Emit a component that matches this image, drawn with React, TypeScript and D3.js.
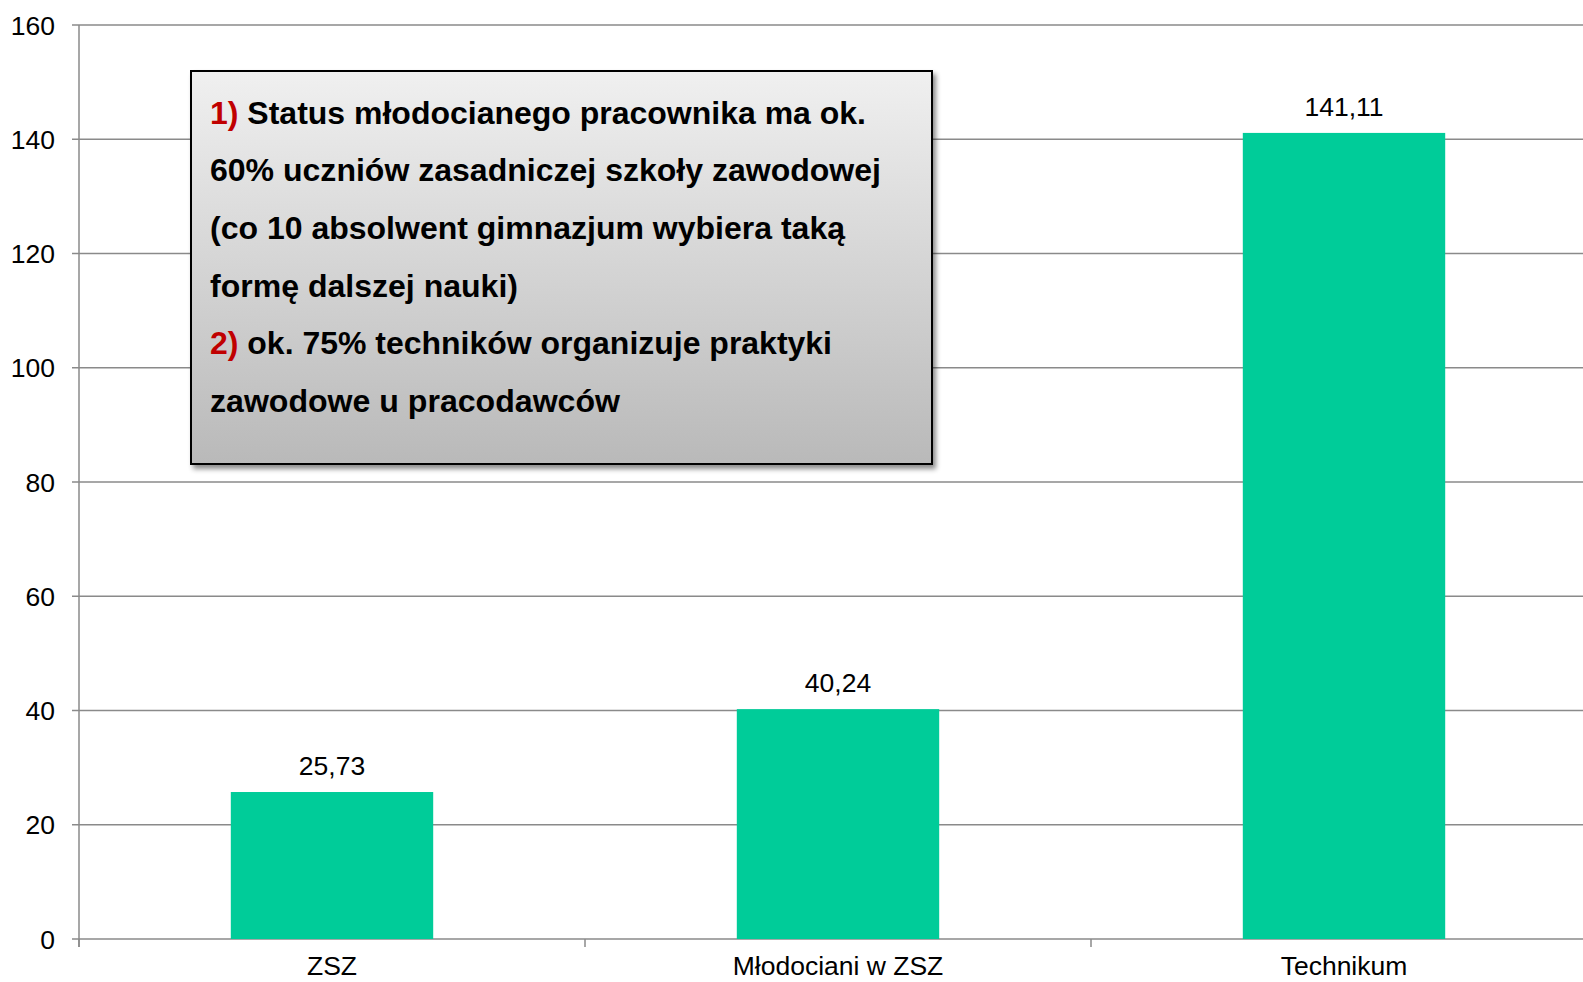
import React from 'react';
import * as d3 from 'd3';

const categories = ['ZSZ', 'Młodociani w ZSZ', 'Technikum'];
const values = [25.73, 40.24, 141.11];
const yTicks = [0, 20, 40, 60, 80, 100, 120, 140, 160];

// annotation lines: [red prefix, black text]
const noteLines: [string, string][] = [
  ['1) ', 'Status młodocianego pracownika ma ok.'],
  ['', '60% uczniów zasadniczej szkoły zawodowej'],
  ['', '(co 10 absolwent gimnazjum wybiera taką'],
  ['', 'formę dalszej nauki)'],
  ['2) ', 'ok. 75% techników organizuje praktyki'],
  ['', 'zawodowe u pracodawców'],
];
// measured widths of each note line in the reference
const noteWidths = [656, 671, 635, 308, 622, 410];

const W = 1583;
const H = 982;
const font = '"Liberation Sans", Arial, sans-serif';

const App = () => {
  const x = d3.scaleBand<string>()
    .domain(categories)
    .range([79, 1597])
    .paddingInner(0.6)
    .paddingOuter(0.3);

  const y = d3.scaleLinear().domain([0, 160]).range([939, 25]);

  const step = x.step();
  const boundaries = d3.range(categories.length).map(i => 79 + i * step);

  return (
    <svg width={W} height={H} style={{ position: 'absolute', left: 0, top: 0, display: 'block', background: '#fff' }}>
      <defs>
        <linearGradient id="boxGrad" x1="0" y1="0" x2="0" y2="1">
          <stop offset="0%" stopColor="#f0f0f0" />
          <stop offset="100%" stopColor="#b9b9b9" />
        </linearGradient>
        <filter id="shadow" x="-5%" y="-5%" width="115%" height="115%">
          <feDropShadow dx="3" dy="4" stdDeviation="2.5" floodColor="#000" floodOpacity="0.45" />
        </filter>
      </defs>

      {/* gridlines */}
      {yTicks.map(t => (
        <line key={t} x1={72} x2={W} y1={y(t)} y2={y(t)} stroke="#8a8a8a" strokeWidth={1.5} />
      ))}

      {/* y axis */}
      <line x1={79} x2={79} y1={y(160)} y2={947} stroke="#8a8a8a" strokeWidth={1.5} />
      {yTicks.map(t => (
        <text key={'l' + t} x={55} y={y(t)} dy="0.36em" textAnchor="end"
          fontFamily={font} fontSize={26.5} fill="#000">{t}</text>
      ))}

      {/* x ticks */}
      {boundaries.map((b, i) => (
        <line key={'xt' + i} x1={b} x2={b} y1={y(0)} y2={947} stroke="#8a8a8a" strokeWidth={1.5} />
      ))}

      {/* bars */}
      {categories.map((c, i) => (
        <rect key={c} x={x(c)} y={y(values[i])} width={x.bandwidth()} height={y(0) - y(values[i])} fill="#00cc99" />
      ))}

      {/* value labels */}
      {categories.map((c, i) => (
        <text key={'v' + c} x={(x(c) as number) + x.bandwidth() / 2} y={y(values[i]) - 17}
          textAnchor="middle" fontFamily={font} fontSize={26.5} fill="#000">
          {values[i].toFixed(2).replace('.', ',')}
        </text>
      ))}

      {/* category labels */}
      {categories.map(c => (
        <text key={'c' + c} x={(x(c) as number) + x.bandwidth() / 2} y={975}
          textAnchor="middle" fontFamily={font} fontSize={26.5} fill="#000">{c}</text>
      ))}

      {/* annotation box */}
      <rect x={191} y={71} width={741} height={393} fill="url(#boxGrad)" stroke="#000" strokeWidth={2} filter="url(#shadow)" />
      {noteLines.map((ln, i) => (
        <text key={'n' + i} x={210} y={123.5 + i * 57.7} fontFamily={font} fontSize={31} fontWeight="bold"
          textLength={noteWidths[i]} lengthAdjust="spacingAndGlyphs" fill="#000">
          {ln[0] && <tspan fill="#c00000">{ln[0]}</tspan>}
          <tspan>{ln[1]}</tspan>
        </text>
      ))}
    </svg>
  );
};

export default App;
